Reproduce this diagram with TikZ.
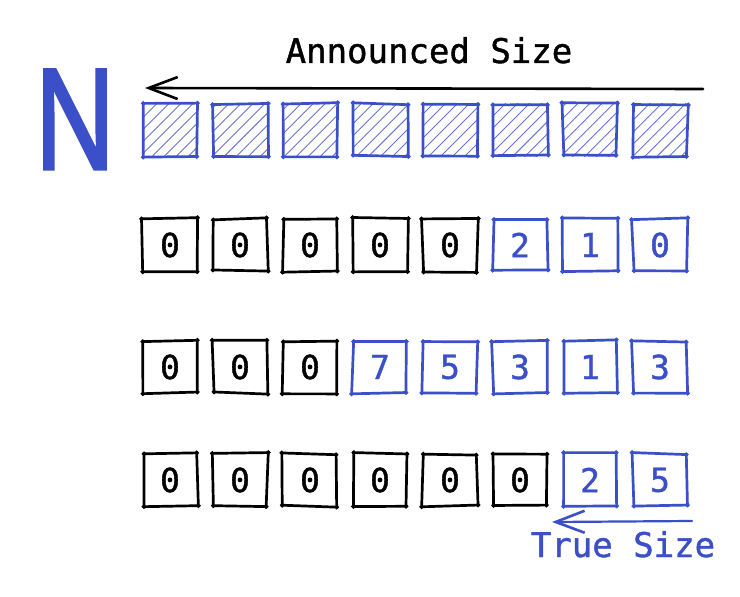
\documentclass[tikz,border=0pt]{standalone}
\usepackage{fontspec}
\usetikzlibrary{arrows.meta,patterns.meta,calc}
\newfontface\monofont[FakeBold=1.2]{DejaVu Sans Mono}
\newfontface\nfont[FakeBold=2.2]{Noto Sans}
\definecolor{sk}{HTML}{3B50C8}
\definecolor{skhatch}{HTML}{6676D6}
\tikzset{
  cell/.style={minimum width=54pt, minimum height=52pt, inner sep=0pt, draw=none,
    font=\fontsize{33}{33}\monofont},
  edge/.style={line width=2.7pt, line cap=round, line join=round,
    shorten <=-1.2pt, shorten >=-1.2pt},
  label/.style={font=\fontsize{34}{34}\monofont, inner sep=0pt, anchor=base},
  arrowline/.style={line width=2.6pt, line cap=round,
    -{Straight Barb[length=29pt,width=22pt,line width=2.6pt]}}
}
\newcommand\sketchrect[2]{%
  \coordinate (#1-a) at ($(#1.north west)+({1.3*rand},{1.3*rand})$);
  \coordinate (#1-b) at ($(#1.north east)+({1.3*rand},{1.3*rand})$);
  \coordinate (#1-c) at ($(#1.south east)+({1.3*rand},{1.3*rand})$);
  \coordinate (#1-d) at ($(#1.south west)+({1.3*rand},{1.3*rand})$);
  \draw[edge,#2] (#1-a) -- (#1-b);
  \draw[edge,#2] (#1-b) -- (#1-c);
  \draw[edge,#2] (#1-c) -- (#1-d);
  \draw[edge,#2] (#1-d) -- (#1-a);
}
\pgfmathsetseed{11}
\begin{document}
\begin{tikzpicture}[x=1pt,y=-1pt]
\useasboundingbox (0,0) rectangle (740,597);
\fill[white] (0,0) rectangle (740,597);

% big N
\node[inner sep=0pt, anchor=base, text=sk, font=\fontsize{139}{139}\nfont] (bigN) at (75,169) {\scalebox{0.78}[1]{N}};

% announced size
\node[label] (announced) at (429,63) {Announced Size};
\coordinate (asR) at (703,89);
\coordinate (asL) at (145,88);
\draw[arrowline] (asR) -- (asL);

% hatched row
\foreach \i in {1,...,8}{
  \node[cell] (h\i) at ({170+70*(\i-1)},130) {};
  \fill[pattern={Lines[angle=45,distance=8.5pt,line width=0.9pt]}, pattern color=skhatch]
    (h\i.north west) rectangle (h\i.south east);
  \sketchrect{h\i}{sk}
}

% row 1
\foreach \v/\c [count=\i] in {0/black,0/black,0/black,0/black,0/black,2/sk,1/sk,0/sk}{
  \node[cell, text=\c] (a\i) at ({170+70*(\i-1)},245) {\v};
  \sketchrect{a\i}{\c}
}
% row 2
\foreach \v/\c [count=\i] in {0/black,0/black,0/black,7/sk,5/sk,3/sk,1/sk,3/sk}{
  \node[cell, text=\c] (b\i) at ({170+70*(\i-1)},367) {\v};
  \sketchrect{b\i}{\c}
}
% row 3
\foreach \v/\c [count=\i] in {0/black,0/black,0/black,0/black,0/black,0/black,2/sk,5/sk}{
  \node[cell, text=\c] (d\i) at ({170+70*(\i-1)},480) {\v};
  \sketchrect{d\i}{\c}
}

% true size
\coordinate (tsR) at (692,521);
\coordinate (tsL) at (552,522);
\draw[arrowline, sk, line width=2.2pt] (tsR) -- (tsL);
\node[label, text=sk] (truesize) at (623,557) {True Size};
\end{tikzpicture}
\end{document}
